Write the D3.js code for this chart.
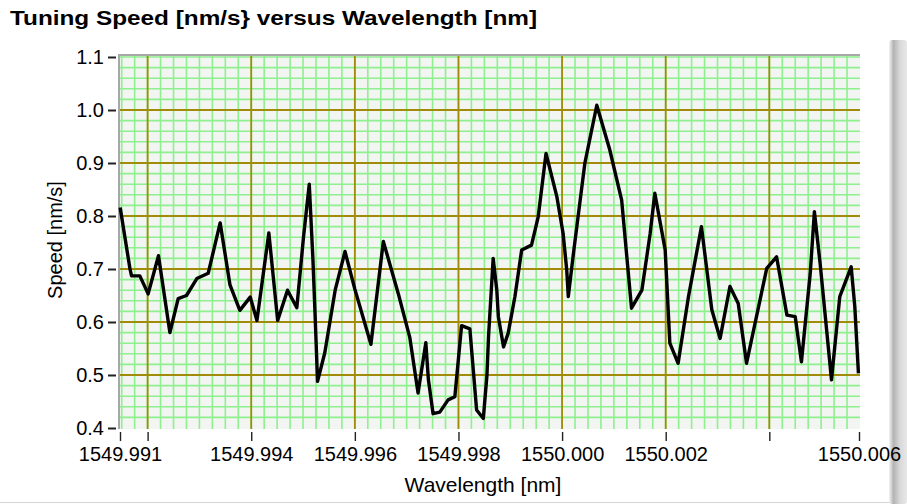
<!DOCTYPE html>
<html>
<head>
<meta charset="utf-8">
<script src="https://cdn.jsdelivr.net/npm/d3@7/dist/d3.min.js"></script>
<style>
  html, body { margin: 0; padding: 0; background: #ffffff; }
  svg { display: block; }
  text { font-family: "Liberation Sans", Arial, sans-serif; fill: #000; }
</style>
</head>
<body>
<svg id="chart" width="907" height="504"></svg>
<script>
// ---- data ----
const title = "Tuning Speed [nm/s} versus Wavelength [nm]";
const xTitle = "Wavelength [nm]";
const yTitle = "Speed [nm/s]";

const wavelength = [
  1549.99147, 1549.99166, 1549.99169, 1549.99185, 1549.99201, 1549.99221, 1549.99243, 1549.99259,
  1549.99275, 1549.99295, 1549.99317, 1549.99340, 1549.99359, 1549.99378, 1549.99398, 1549.99411,
  1549.99434, 1549.99451, 1549.99470, 1549.99488, 1549.99501, 1549.99512, 1549.99519, 1549.99523,
  1549.99528, 1549.99542, 1549.99562, 1549.99581, 1549.99600, 1549.99631, 1549.99655, 1549.99684,
  1549.99706, 1549.99722, 1549.99737, 1549.99742, 1549.99751, 1549.99764, 1549.99780, 1549.99793,
  1549.99806, 1549.99822, 1549.99835, 1549.99848, 1549.99855, 1549.99858, 1549.99867, 1549.99874,
  1549.99877, 1549.99887, 1549.99896, 1549.99909, 1549.99922, 1549.99941, 1549.99954, 1549.99969,
  1549.99990, 1550.00002, 1550.00009, 1550.00012, 1550.00022, 1550.00044, 1550.00067, 1550.00092,
  1550.00115, 1550.00134, 1550.00154, 1550.00170, 1550.00179, 1550.00199, 1550.00208, 1550.00224,
  1550.00244, 1550.00269, 1550.00289, 1550.00305, 1550.00324, 1550.00340, 1550.00356, 1550.00395,
  1550.00414, 1550.00434, 1550.00450, 1550.00462, 1550.00479, 1550.00487, 1550.00498, 1550.00520,
  1550.00536, 1550.00558, 1550.00565, 1550.00572
];
const speed = [
  0.816, 0.700, 0.687, 0.687, 0.653, 0.725, 0.580, 0.644,
  0.650, 0.682, 0.692, 0.787, 0.670, 0.622, 0.647, 0.603,
  0.768, 0.603, 0.660, 0.627, 0.761, 0.860, 0.720, 0.620,
  0.488, 0.542, 0.660, 0.733, 0.662, 0.558, 0.752, 0.653,
  0.571, 0.466, 0.561, 0.491, 0.427, 0.430, 0.453, 0.459,
  0.593, 0.587, 0.434, 0.418, 0.500, 0.572, 0.720, 0.660,
  0.610, 0.553, 0.579, 0.648, 0.736, 0.745, 0.799, 0.918,
  0.836, 0.767, 0.698, 0.648, 0.730, 0.900, 1.009, 0.925,
  0.830, 0.626, 0.660, 0.767, 0.843, 0.736, 0.560, 0.522,
  0.648, 0.780, 0.623, 0.569, 0.667, 0.635, 0.522, 0.701,
  0.723, 0.613, 0.610, 0.525, 0.692, 0.808, 0.711, 0.491,
  0.648, 0.704, 0.629, 0.503
];

const xDomain = [1549.991467, 1550.005731];
const yDomain = [0.4, 1.1];
const xTickValues = [1549.991467, 1549.992, 1549.994, 1549.996, 1549.998, 1550.000, 1550.002, 1550.004, 1550.005731];
const xTickLabels = ["1549.991", "", "1549.994", "1549.996", "1549.998", "1550.000", "1550.002", "", "1550.006"];
const xMajorGrid = [1549.992, 1549.994, 1549.996, 1549.998, 1550.000, 1550.002, 1550.004];
const yTickValues = [0.4, 0.5, 0.6, 0.7, 0.8, 0.9, 1.0, 1.1];
const yTickLabels = ["0.4", "0.5", "0.6", "0.7", "0.8", "0.9", "1.0", "1.1"];
const yMajorGrid = [0.5, 0.6, 0.7, 0.8, 0.9, 1.0];
const xMinorStep = 0.00025;
const yMinorStep = 0.02;

// ---- drawing ----
const svg = d3.select("#chart");
const L = 120, R = 859, T = 57, B = 428;
const x = d3.scaleLinear().domain(xDomain).range([L, R]);
const y = d3.scaleLinear().domain(yDomain).range([B, T]);

// bottom separator and right panel edge
const defs = svg.append("defs");
const grad = defs.append("linearGradient").attr("id", "edge").attr("x1", "0").attr("x2", "1");
grad.append("stop").attr("offset", "0").attr("stop-color", "#f4f4f4");
grad.append("stop").attr("offset", "0.25").attr("stop-color", "#b4b4b4");
grad.append("stop").attr("offset", "0.6").attr("stop-color", "#d8d8d8");
grad.append("stop").attr("offset", "1").attr("stop-color", "#e8e8e8");
svg.append("line").attr("x1", 0).attr("x2", 890).attr("y1", 502.5).attr("y2", 502.5)
  .attr("stroke", "#d4d4d4").attr("stroke-width", 1);
svg.append("rect").attr("x", 889).attr("y", 40).attr("width", 18).attr("height", 464)
  .attr("rx", 3).attr("fill", "url(#edge)");

// plot background
svg.append("rect").attr("x", L - 1).attr("y", T - 2).attr("width", R - L + 2).attr("height", B - T + 3)
  .attr("fill", "#f2f5f2");

const grid = svg.append("g");
// minor grid
const xMinor = [];
for (let v = xMajorGrid[0]; v >= xDomain[0] - 1e-9; v -= xMinorStep) xMinor.push(v);
for (let v = xMajorGrid[0] + xMinorStep; v <= xDomain[1] + 1e-9; v += xMinorStep) xMinor.push(v);
const yMinor = d3.range(yDomain[0] + yMinorStep, yDomain[1] + 1e-9, yMinorStep);
grid.selectAll("line.xm").data(xMinor).join("line")
  .attr("x1", d => x(d)).attr("x2", d => x(d)).attr("y1", T - 2).attr("y2", B + 1)
  .attr("stroke", "#8ef08e").attr("stroke-width", 1.6);
grid.selectAll("line.ym").data(yMinor).join("line")
  .attr("x1", L - 1).attr("x2", R + 1).attr("y1", d => y(d)).attr("y2", d => y(d))
  .attr("stroke", "#8ef08e").attr("stroke-width", 1.6);
// major grid
grid.selectAll("line.xM").data(xMajorGrid).join("line")
  .attr("x1", d => x(d)).attr("x2", d => x(d)).attr("y1", T - 2).attr("y2", B + 1)
  .attr("stroke", "#a08c08").attr("stroke-width", 1.8);
grid.selectAll("line.yM").data(yMajorGrid).join("line")
  .attr("x1", L - 1).attr("x2", R + 1).attr("y1", d => y(d)).attr("y2", d => y(d))
  .attr("stroke", "#a08c08").attr("stroke-width", 1.8);

// frame (top/left sunken)
svg.append("line").attr("x1", L - 2).attr("x2", R + 1).attr("y1", T - 2).attr("y2", T - 2)
  .attr("stroke", "#a8a8a8").attr("stroke-width", 2);
svg.append("line").attr("x1", L - 1).attr("x2", L - 1).attr("y1", T - 3).attr("y2", B + 1)
  .attr("stroke", "#a8a8a8").attr("stroke-width", 2);

// data line
const pts = wavelength.map((w, i) => [w, speed[i]]);
svg.append("path").datum(pts)
  .attr("d", d3.line().x(d => x(d[0])).y(d => y(d[1])))
  .attr("fill", "none").attr("stroke", "#000").attr("stroke-width", 3.4)
  .attr("stroke-linejoin", "round");

// x axis
const xAxis = d3.axisBottom(x).tickValues(xTickValues).tickSize(9).tickPadding(6)
  .tickFormat((d, i) => xTickLabels[i]);
const gx = svg.append("g").attr("transform", `translate(0,${B + 4})`).call(xAxis);
gx.select(".domain").remove();
gx.selectAll(".tick line").attr("stroke", "#222").attr("stroke-width", 1.4);
gx.selectAll(".tick text").attr("font-size", 20).attr("fill", "#111")
  .style("font-family", "'Liberation Sans', Arial, sans-serif");

// y axis
const yAxis = d3.axisLeft(y).tickValues(yTickValues).tickSize(8).tickPadding(4)
  .tickFormat((d, i) => yTickLabels[i]);
const gy = svg.append("g").attr("transform", `translate(${L - 4},0)`).call(yAxis);
gy.select(".domain").remove();
gy.selectAll(".tick line").attr("stroke", "#222").attr("stroke-width", 2);
gy.selectAll(".tick text").attr("font-size", 20).attr("fill", "#111")
  .style("font-family", "'Liberation Sans', Arial, sans-serif");

// titles
svg.append("text").attr("x", 10).attr("y", 25).text(title)
  .attr("font-size", 20).attr("font-weight", "bold")
  .attr("textLength", 527).attr("lengthAdjust", "spacingAndGlyphs");
svg.append("text").attr("x", 483).attr("y", 492).attr("text-anchor", "middle")
  .attr("font-size", 21).attr("fill", "#111").text(xTitle);
svg.append("text").attr("transform", "translate(62,240) rotate(-90)").attr("text-anchor", "middle")
  .attr("font-size", 20).attr("fill", "#111").text(yTitle);
</script>
</body>
</html>
